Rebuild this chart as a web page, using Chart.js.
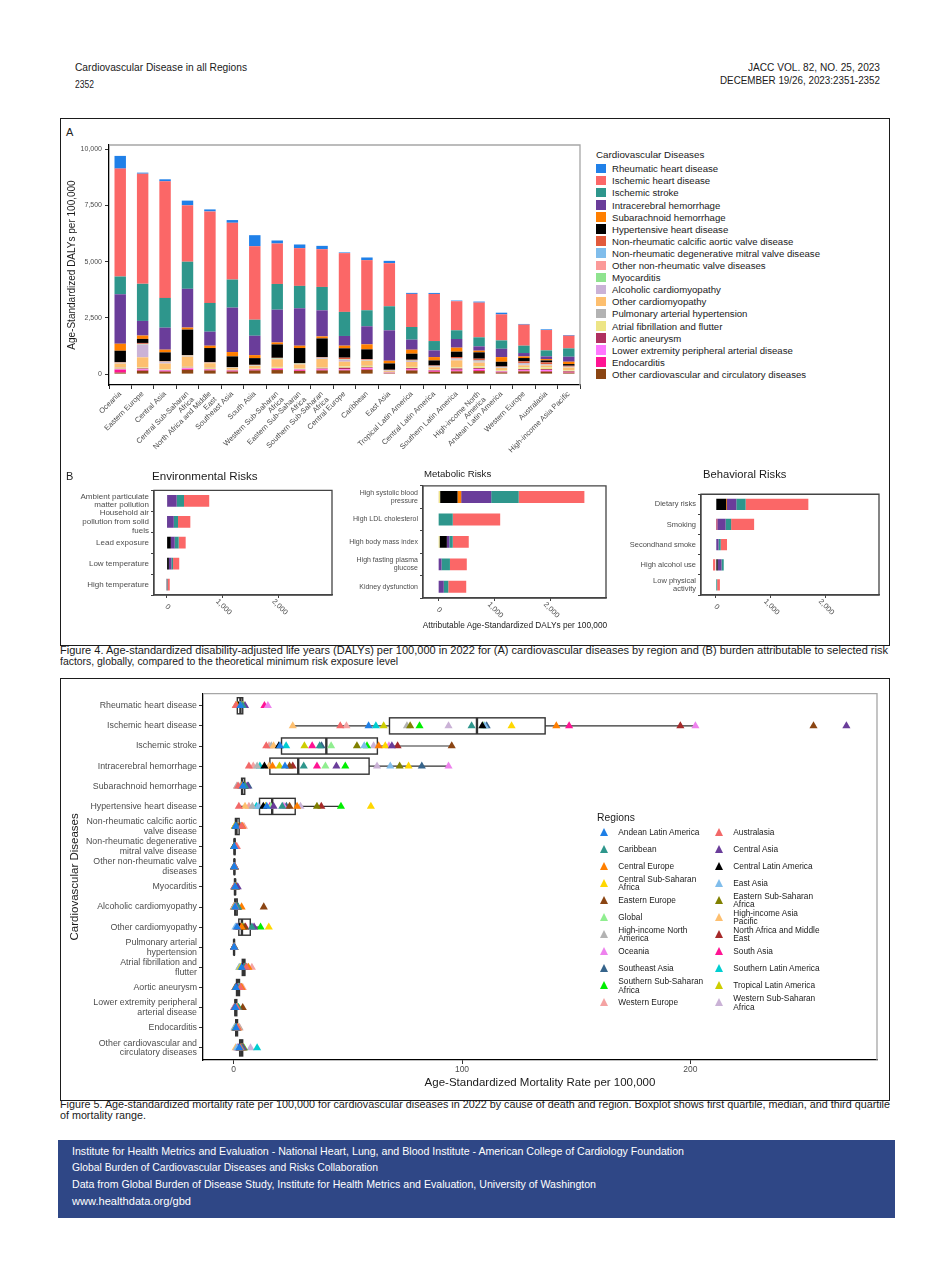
<!DOCTYPE html>
<html lang="en">
<head>
<meta charset="UTF-8">
<meta name="viewport" content="width=device-width, initial-scale=1.0">
<title>Cardiovascular Disease in all Regions</title>
<script src="https://cdn.jsdelivr.net/npm/chart.js"></script>
<style>
  body { margin: 0; background: #fff; }
  #page { position: relative; width: 950px; height: 1277px; overflow: hidden; font-family: "Liberation Sans", Arial, sans-serif; color: #222; }
  #page > * { position: absolute; }
  .line { font-family: "Liberation Sans Narrow", "Liberation Sans", Arial, sans-serif; font-size: 11.5px; line-height: 12px; white-space: nowrap; transform-origin: 0 50%; color: #1a1a1a; }
  .frame { border: 1.6px solid #1b1b1b; box-sizing: border-box; }
  .tag { font-size: 11px; line-height: 12px; }
  .ptitle { white-space: nowrap; color: #1a1a1a; }
  #footer { left: 58px; top: 1140px; width: 837px; height: 78px; background: #2f4786; }
  #footer .line { color: #fff; position: absolute; left: 14px; }
  .lgA { font-size: 9.6px; white-space: nowrap; color: #1a1a1a; }
  .lgA .sw { display: inline-block; width: 10px; height: 9.5px; margin-right: 6px; vertical-align: -1px; }
  .lg5 { position: absolute; font-size: 8.3px; line-height: 8.7px; color: #1a1a1a; white-space: nowrap; }
  .tri { position: absolute; width: 0; height: 0; border-left: 4.6px solid transparent; border-right: 4.6px solid transparent; border-bottom: 8px solid #000; }
</style>
</head>
<body>
<div id="page">
  <div class="line" data-w="172" style="left:75px;top:61px">Cardiovascular Disease in all Regions</div>
  <div class="line" data-w="19" style="left:75px;top:78px">2352</div>
  <div class="line" data-w="132" style="left:748px;top:61px">JACC VOL. 82, NO. 25, 2023</div>
  <div class="line" data-w="160" style="left:720px;top:74px">DECEMBER 19/26, 2023:2351-2352</div>

  <div class="frame" style="left:60px;top:118px;width:830px;height:528px"></div>
  <div class="tag" style="left:66px;top:126px">A</div>
  <canvas id="cvdBars" width="530" height="345" style="left:62px;top:126px"></canvas>
  <div id="legendA" style="left:596px;top:148px"></div>

  <div class="tag" style="left:66px;top:470px">B</div>
  <div class="ptitle" style="left:152px;top:469px;font-size:11.6px">Environmental Risks</div>
  <div class="ptitle" style="left:424px;top:468px;font-size:9.6px">Metabolic Risks</div>
  <div class="ptitle" style="left:703px;top:468px;font-size:11.2px">Behavioral Risks</div>
  <canvas id="envRisk" width="272" height="140" style="left:62px;top:484px"></canvas>
  <canvas id="metRisk" width="272" height="142" style="left:340px;top:480px"></canvas>
  <canvas id="behRisk" width="262" height="140" style="left:620px;top:484px"></canvas>
  <div class="ptitle" style="left:420px;top:620px;width:190px;text-align:center;font-size:8.3px">Attributable Age-Standardized DALYs per 100,000</div>

  <div class="line" data-w="828" style="left:60px;top:644px">Figure 4. Age-standardized disability-adjusted life years (DALYs) per 100,000 in 2022 for (A) cardiovascular diseases by region and (B) burden attributable to selected risk</div>
  <div class="line" data-w="338" style="left:60px;top:655px">factors, globally, compared to the theoretical minimum risk exposure level</div>

  <div class="frame" style="left:60px;top:678px;width:830px;height:423px"></div>
  <canvas id="mortality" width="826" height="416" style="left:62px;top:682px"></canvas>
  <div id="legend5" style="left:0;top:0"></div>

  <div class="line" data-w="830" style="left:60px;top:1098px">Figure 5. Age-standardized mortality rate per 100,000 for cardiovascular diseases in 2022 by cause of death and region. Boxplot shows first quartile, median, and third quartile</div>
  <div class="line" data-w="86" style="left:60px;top:1109px">of mortality range.</div>

  <div id="footer">
    <div class="line" data-w="612" style="top:5px">Institute for Health Metrics and Evaluation - National Heart, Lung, and Blood Institute - American College of Cardiology Foundation</div>
    <div class="line" data-w="306" style="top:21px">Global Burden of Cardiovascular Diseases and Risks Collaboration</div>
    <div class="line" data-w="524" style="top:38px">Data from Global Burden of Disease Study, Institute for Health Metrics and Evaluation, University of Washington</div>
    <div class="line" data-w="119" style="top:55px">www.healthdata.org/gbd</div>
  </div>
</div>

<script>
  // ---- causes (legend order = top of stack first) ----
  const cvdCauses = ['Rheumatic heart disease', 'Ischemic heart disease', 'Ischemic stroke', 'Intracerebral hemorrhage',
    'Subarachnoid hemorrhage', 'Hypertensive heart disease', 'Non-rheumatic calcific aortic valve disease',
    'Non-rheumatic degenerative mitral valve disease', 'Other non-rheumatic valve diseases', 'Myocarditis',
    'Alcoholic cardiomyopathy', 'Other cardiomyopathy', 'Pulmonary arterial hypertension', 'Atrial fibrillation and flutter',
    'Aortic aneurysm', 'Lower extremity peripheral arterial disease', 'Endocarditis', 'Other cardiovascular and circulatory diseases'];
  const causeColors = ['#2080e8', '#fb6767', '#2e968c', '#6a3d9a', '#ff7f00', '#000000', '#e25a3c', '#80bdeb', '#fb9a99',
    '#8fe38f', '#cab2d6', '#fdbf6f', '#b3b3b3', '#ede586', '#b03060', '#ff77ff', '#ff1493', '#8b4513'];

  // ---- Figure 4A: DALYs by region ----
  const regionTicksA = [['Oceania'], ['Eastern Europe'], ['Central Asia'], ['Central Sub-Saharan', 'Africa'],
    ['North Africa and Middle', 'East'], ['Southeast Asia'], ['South Asia'], ['Western Sub-Saharan', 'Africa'],
    ['Eastern Sub-Saharan', 'Africa'], ['Southern Sub-Saharan', 'Africa'], ['Central Europe'], ['Caribbean'], ['East Asia'],
    ['Tropical Latin America'], ['Central Latin America'], ['Southern Latin America'], ['High-income North', 'America'],
    ['Andean Latin America'], ['Western Europe'], ['Australasia'], ['High-income Asia Pacific']];
  const dalyTicks = [0, 2500, 5000, 7500, 10000];

  const dalyRheumatic = [565, 45, 90, 208, 90, 120, 490, 134, 163, 149, 30, 119, 104, 45, 45, 30, 45, 74, 30, 30, 30];
  const dalyIschemicHeart = [4800, 4900, 5186, 2510, 4070, 2526, 3270, 1800, 1679, 1679, 2615, 2229, 1917, 1471, 2095, 1293, 1545, 1159, 936, 906, 565];
  const dalyIschemicStroke = [790, 1650, 1322, 1204, 1278, 1248, 713, 1144, 996, 1040, 1070, 713, 1070, 565, 416, 386, 401, 371, 327, 267, 371];
  const dalyIntracerebral = [2200, 650, 980, 1724, 624, 1976, 862, 1456, 1664, 1159, 431, 802, 1352, 446, 297, 386, 193, 371, 149, 119, 223];
  const dalySubarachnoid = [310, 150, 120, 90, 104, 193, 134, 90, 104, 90, 119, 223, 119, 178, 149, 178, 74, 208, 74, 59, 104];
  const dalyHypertensive = [505, 180, 386, 1130, 624, 475, 297, 594, 669, 832, 416, 431, 282, 267, 223, 238, 282, 208, 149, 89, 74];
  const dalyCalcificAortic = [20, 40, 20, 10, 20, 10, 10, 10, 10, 15, 60, 30, 15, 30, 20, 60, 80, 20, 80, 70, 40];
  const dalyMitral = [5, 5, 5, 5, 5, 3, 3, 5, 5, 5, 10, 5, 3, 5, 5, 15, 20, 5, 25, 20, 10];
  const dalyOtherValve = [10, 10, 10, 20, 10, 5, 5, 15, 10, 15, 15, 10, 5, 10, 10, 20, 20, 10, 20, 20, 10];
  const dalyMyocarditis = [15, 20, 15, 20, 15, 10, 15, 20, 15, 20, 15, 15, 10, 15, 15, 15, 15, 15, 10, 10, 10];
  const dalyAlcoholic = [20, 565, 60, 20, 5, 10, 15, 15, 20, 30, 80, 20, 20, 40, 30, 40, 40, 20, 40, 20, 10];
  const dalyOtherCardio = [180, 445, 250, 450, 200, 80, 120, 340, 180, 380, 200, 220, 40, 220, 80, 300, 160, 90, 90, 80, 120];
  const dalyPulmonary = [20, 10, 10, 15, 10, 5, 5, 10, 10, 10, 10, 10, 5, 10, 10, 10, 15, 10, 10, 10, 10];
  const dalyAtrial = [30, 40, 30, 30, 40, 20, 20, 40, 25, 30, 60, 60, 20, 40, 35, 50, 70, 40, 70, 70, 40];
  const dalyAneurysm = [20, 40, 20, 20, 20, 20, 10, 20, 15, 20, 60, 40, 15, 40, 30, 60, 40, 20, 40, 40, 30];
  const dalyLowerExt = [20, 30, 20, 30, 20, 10, 10, 30, 30, 30, 30, 40, 10, 30, 20, 30, 50, 20, 30, 40, 10];
  const dalyEndocarditis = [130, 30, 30, 40, 30, 30, 40, 40, 30, 40, 30, 30, 10, 40, 30, 40, 40, 20, 30, 30, 20];
  const dalyOtherCvd = [65, 150, 110, 190, 160, 110, 160, 180, 140, 160, 160, 190, 40, 160, 100, 120, 135, 70, 120, 110, 62];
  const dalySeries = [dalyRheumatic, dalyIschemicHeart, dalyIschemicStroke, dalyIntracerebral, dalySubarachnoid, dalyHypertensive,
    dalyCalcificAortic, dalyMitral, dalyOtherValve, dalyMyocarditis, dalyAlcoholic, dalyOtherCardio, dalyPulmonary, dalyAtrial,
    dalyAneurysm, dalyLowerExt, dalyEndocarditis, dalyOtherCvd];

  // ---- Figure 4B: attributable DALYs by risk ----
  const riskTicks = [0, 1000, 2000];
  const envTicks = [['Ambient particulate', 'matter pollution'], ['Household air', 'pollution from solid', 'fuels'], ['Lead exposure'], ['Low temperature'], ['High temperature']];
  const envHypertensive = [10, 8, 75, 40, 3];
  const envIntracerebral = [170, 120, 70, 45, 5];
  const envIschemicStroke = [130, 75, 70, 30, 8];
  const envIschemicHeart = [450, 220, 125, 110, 40];

  const metTicks = [['High systolic blood', 'pressure'], ['High LDL cholesterol'], ['High body mass index'], ['High fasting plasma', 'glucose'], ['Kidney dysfunction']];
  const metAtrial = [25, 0, 25, 0, 0];
  const metAneurysm = [10, 0, 0, 0, 0];
  const metHypertensive = [310, 0, 130, 0, 0];
  const metSubarachnoid = [65, 0, 0, 0, 0];
  const metIntracerebral = [535, 0, 45, 60, 100];
  const metIschemicStroke = [490, 260, 60, 150, 80];
  const metIschemicHeart = [1170, 845, 285, 300, 320];

  const behTicks = [['Dietary risks'], ['Smoking'], ['Secondhand smoke'], ['High alcohol use'], ['Low physical', 'activity']];
  const behAneurysm = [0, 30, 0, 0, 0];
  const behAlcoholic = [0, 0, 0, 10, 0];
  const behHypertensive = [190, 0, 0, 25, 0];
  const behSubarachnoid = [15, 0, 0, 0, 0];
  const behIntracerebral = [170, 150, 50, 70, 0];
  const behIschemicStroke = [170, 100, 40, 40, 25];
  const behIschemicHeart = [1145, 420, 115, -50, 50];

  // ---- Figure 5: mortality rate by cause and region ----
  const regions5 = ['Andean Latin America', 'Australasia', 'Caribbean', 'Central Asia', 'Central Europe', 'Central Latin America',
    'Central Sub-Saharan Africa', 'East Asia', 'Eastern Europe', 'Eastern Sub-Saharan Africa', 'Global', 'High-income Asia Pacific',
    'High-income North America', 'North Africa and Middle East', 'Oceania', 'South Asia', 'Southeast Asia', 'Southern Latin America',
    'Southern Sub-Saharan Africa', 'Tropical Latin America', 'Western Europe', 'Western Sub-Saharan Africa'];
  const legendLabels5 = [['Andean Latin America'], ['Australasia'], ['Caribbean'], ['Central Asia'], ['Central Europe'],
    ['Central Latin America'], ['Central Sub-Saharan', 'Africa'], ['East Asia'], ['Eastern Europe'], ['Eastern Sub-Saharan', 'Africa'],
    ['Global'], ['High-income Asia', 'Pacific'], ['High-income North', 'America'], ['North Africa and Middle', 'East'], ['Oceania'],
    ['South Asia'], ['Southeast Asia'], ['Southern Latin America'], ['Southern Sub-Saharan', 'Africa'], ['Tropical Latin America'],
    ['Western Europe'], ['Western Sub-Saharan', 'Africa']];
  const regionColors = ['#1e7fe6', '#f26868', '#2e968c', '#6a3d9a', '#ff7f00', '#000000', '#ffd700', '#80bdeb', '#8b4513', '#808000',
    '#90ee90', '#fdbf6f', '#b3b3b3', '#a52a2a', '#ee82ee', '#ff1493', '#36648b', '#00ced1', '#00ee00', '#cdcd00', '#f4a3a3', '#cab2d6'];
  const causeTicks5 = [['Rheumatic heart disease'], ['Ischemic heart disease'], ['Ischemic stroke'], ['Intracerebral hemorrhage'],
    ['Subarachnoid hemorrhage'], ['Hypertensive heart disease'], ['Non-rheumatic calcific aortic', 'valve disease'],
    ['Non-rheumatic degenerative', 'mitral valve disease'], ['Other non-rheumatic valve', 'diseases'], ['Myocarditis'],
    ['Alcoholic cardiomyopathy'], ['Other cardiomyopathy'], ['Pulmonary arterial', 'hypertension'], ['Atrial fibrillation and', 'flutter'],
    ['Aortic aneurysm'], ['Lower extremity peripheral', 'arterial disease'], ['Endocarditis'], ['Other cardiovascular and', 'circulatory diseases']];
  const rateTicks = [0, 100, 200];

  const rateRheumatic = [3, 1, 4, 5, 1.5, 2, 4, 3, 2, 3, 4, 1, 1, 3, 15, 13.5, 3, 1.5, 3, 4.5, 1, 2.5];
  const rateIschemicHeart = [59.1, 46.7, 104.2, 268.3, 141.3, 108.9, 121.7, 110, 253.9, 77.3, 109.5, 25.9, 75.9, 195.6, 202.2, 146.9, 110.8, 62.3, 81.4, 65.7, 49.4, 94.1];
  const rateIschemicStroke = [20.3, 14.3, 37.7, 69.3, 63.5, 19.8, 66.4, 57.2, 95.5, 54.0, 42.7, 17.5, 16.5, 71.8, 68, 34.4, 38.5, 23.0, 58.4, 31.0, 15.5, 61.3];
  const rateIntracerebral = [22.5, 6.7, 30.7, 45.0, 17.0, 13.5, 76.6, 68.6, 24.5, 72.7, 40.2, 15.5, 10.3, 25.9, 94.1, 36.5, 82.4, 11.5, 48.9, 20.1, 8.6, 62.8];
  const rateSubarachnoid = [4, 2, 5, 6, 3.5, 4.5, 5, 3, 3.5, 5, 3.5, 3, 1.5, 3.5, 5.5, 4, 6.5, 3.5, 4.5, 3.5, 1.5, 4];
  const rateHypertensive = [14.5, 2.3, 21.3, 17.5, 27.8, 13.0, 60.1, 10.8, 24.5, 36.5, 16.3, 5.0, 8.2, 38.4, 22.0, 15.9, 23.1, 10.0, 47.0, 14.0, 6.7, 29.3];
  const rateCalcificAortic = [0.8, 3.5, 1.2, 1.5, 3.8, 1.0, 0.5, 0.8, 2.5, 0.6, 1.5, 2.2, 3.2, 1.3, 0.9, 0.6, 0.7, 3.0, 1.0, 1.6, 4.5, 0.6];
  const rateMitral = [0.3, 1.2, 0.4, 0.6, 0.8, 0.3, 0.2, 0.3, 0.6, 0.2, 0.5, 0.6, 1.0, 0.4, 0.3, 0.2, 0.3, 0.9, 0.3, 0.4, 1.5, 0.2];
  const rateOtherValve = [0.3, 0.5, 0.4, 0.3, 0.4, 0.4, 0.3, 0.1, 0.3, 0.3, 0.3, 0.2, 0.5, 0.4, 0.5, 0.2, 0.2, 0.5, 0.4, 0.4, 0.6, 0.3];
  const rateMyocarditis = [0.6, 0.3, 0.6, 1.8, 0.8, 0.5, 0.8, 0.4, 1.2, 0.8, 0.7, 0.3, 0.4, 0.9, 1.0, 0.6, 0.8, 0.4, 1.0, 0.6, 0.4, 0.8];
  const rateAlcoholic = [0.6, 0.8, 2.0, 1.5, 3.5, 1.8, 0.5, 0.4, 13.2, 0.6, 0.9, 0.2, 1.6, 0.1, 0.3, 0.6, 0.7, 1.2, 1.5, 1.3, 1.8, 0.5];
  const rateOtherCardio = [1.5, 1.6, 8.0, 9.0, 3.5, 2.5, 15.4, 0.8, 5.0, 4.1, 3.8, 1.2, 4.5, 3.0, 8.3, 5.2, 2.2, 3.4, 11.8, 2.8, 2.0, 8.6];
  const ratePulmonary = [0.2, 0.2, 0.3, 0.3, 0.2, 0.2, 0.3, 0.2, 0.2, 0.3, 0.2, 0.1, 0.3, 0.3, 0.4, 0.2, 0.2, 0.2, 0.3, 0.3, 0.2, 0.3];
  const rateAtrial = [3.5, 5.5, 4.8, 4.5, 6.5, 4.0, 3.0, 2.5, 5.5, 3.5, 4.6, 2.5, 6.0, 4.5, 3.8, 4.2, 4.0, 5.0, 4.8, 4.7, 8.0, 3.8];
  const rateAneurysm = [1.0, 3.0, 2.5, 1.5, 3.5, 1.2, 1.0, 2.0, 2.2, 0.8, 2.1, 2.8, 2.6, 1.8, 1.5, 0.8, 1.5, 3.2, 1.6, 2.0, 4.0, 0.9];
  const rateLowerExt = [0.8, 1.5, 2.0, 0.5, 1.5, 0.9, 0.5, 0.3, 4.0, 0.6, 1.0, 0.4, 1.4, 0.7, 0.8, 0.2, 0.6, 1.2, 2.2, 1.4, 1.2, 0.6];
  const rateEndocarditis = [1.0, 1.8, 1.2, 1.5, 1.8, 1.2, 0.8, 0.4, 1.5, 0.9, 1.3, 2.0, 2.5, 1.0, 1.2, 0.6, 0.7, 1.5, 1.4, 1.8, 2.6, 0.9];
  const rateOtherCvd = [2.5, 3.0, 3.5, 4.0, 3.6, 2.8, 3.8, 1.5, 4.2, 3.2, 3.1, 0.9, 4.3, 2.6, 3.3, 1.8, 2.2, 10.3, 4.5, 3.4, 3.9, 7.4];
  const rateSeries = [rateRheumatic, rateIschemicHeart, rateIschemicStroke, rateIntracerebral, rateSubarachnoid, rateHypertensive,
    rateCalcificAortic, rateMitral, rateOtherValve, rateMyocarditis, rateAlcoholic, rateOtherCardio, ratePulmonary, rateAtrial,
    rateAneurysm, rateLowerExt, rateEndocarditis, rateOtherCvd];

  // ---- shared styles ----
  Chart.defaults.font.family = '"Liberation Sans", Arial, sans-serif';
  Chart.defaults.color = '#4d4d4d';
  Chart.defaults.animation = false;
  const fmt = v => v.toLocaleString('en-US');
  const axisGrid = { drawOnChartArea: false, tickLength: 4, color: '#333' };

  // gray top/right edges (or a full box) around the plot area
  function panelEdge(color, full) {
    return {
      id: 'panelEdge',
      afterDatasetsDraw(chart) {
        const { ctx, chartArea: a } = chart;
        ctx.save();
        ctx.strokeStyle = color;
        ctx.lineWidth = 1.3;
        ctx.beginPath();
        if (full) {
          ctx.rect(a.left, a.top, a.width, a.height);
        } else {
          ctx.moveTo(a.left, a.top);
          ctx.lineTo(a.right, a.top);
          ctx.lineTo(a.right, a.bottom);
        }
        ctx.stroke();
        ctx.restore();
      }
    };
  }

  // ---- 4A stacked bars ----
  new Chart(document.getElementById('cvdBars'), {
    type: 'bar',
    data: {
      labels: regionTicksA,
      datasets: cvdCauses.map((name, i) => ({
        label: name,
        data: dalySeries[i],
        backgroundColor: causeColors[i],
        categoryPercentage: 1,
        barPercentage: 0.51
      })).reverse()
    },
    options: {
      responsive: false,
      layout: { padding: { top: 19, right: 12, left: 0, bottom: 0 } },
      plugins: { legend: { display: false }, tooltip: { enabled: false } },
      scales: {
        x: {
          stacked: true,
          grid: axisGrid,
          border: { color: '#000', width: 1.3 },
          ticks: { autoSkip: false, minRotation: 45, maxRotation: 45, padding: 1, font: { size: 7.5, lineHeight: 1.05 } },
          afterFit: s => { s.height = 86; }
        },
        y: {
          stacked: true,
          min: -485,
          max: 10190,
          afterBuildTicks: s => { s.ticks = dalyTicks.map(v => ({ value: v })); },
          ticks: { font: { size: 7 }, padding: 3, callback: v => fmt(v) },
          grid: axisGrid,
          border: { color: '#000', width: 1.3 },
          title: { display: true, text: 'Age-Standardized DALYs per 100,000', color: '#1a1a1a', font: { size: 10 } },
          afterFit: s => { s.width = 47; }
        }
      }
    },
    plugins: [panelEdge('#a6a6a6', false)]
  });

  // legend for 4A
  const legendA = document.getElementById('legendA');
  legendA.innerHTML = '<div class="lgA" style="font-size:9.8px;line-height:13px">Cardiovascular Diseases</div>' +
    '<div style="position:absolute;top:15.3px;left:0">' +
    cvdCauses.map((c, i) => `<div class="lgA" style="line-height:12.1px"><span class="sw" style="background:${causeColors[i]}"></span>${c}</div>`).join('') +
    '</div>';

  // ---- 4B horizontal risk bars ----
  const slantTicks = {
    id: 'slantTicks',
    afterDraw(chart) {
      const s = chart.scales.x, ctx = chart.ctx;
      ctx.save();
      ctx.fillStyle = '#4d4d4d';
      ctx.font = '7.5px "Liberation Sans", Arial, sans-serif';
      ctx.textAlign = 'center';
      ctx.textBaseline = 'middle';
      s.ticks.forEach(t => {
        ctx.save();
        ctx.translate(s.getPixelForValue(t.value) + 1, s.top + 12);
        ctx.rotate(Math.PI / 4);
        ctx.fillText(fmt(t.value), 0, 0);
        ctx.restore();
      });
      ctx.restore();
    }
  };

  function riskChart(id, ticks, series, o) {
    new Chart(document.getElementById(id), {
      type: 'bar',
      data: {
        labels: ticks,
        datasets: series.sort((a, b) => b[0] - a[0]).map(([ci, vals]) => ({
          label: cvdCauses[ci],
          data: vals,
          backgroundColor: causeColors[ci],
          categoryPercentage: 1,
          barPercentage: o.bar
        }))
      },
      options: {
        responsive: false,
        indexAxis: 'y',
        layout: { padding: { top: o.top, right: o.right, left: 0, bottom: 0 } },
        plugins: { legend: { display: false }, tooltip: { enabled: false } },
        scales: {
          x: {
            stacked: true,
            min: o.min,
            max: o.max,
            afterBuildTicks: s => { s.ticks = riskTicks.map(v => ({ value: v })); },
            ticks: { display: false },
            grid: { drawOnChartArea: false, tickLength: 3, color: '#444' },
            border: { color: '#444', width: 1.2 },
            afterFit: s => { s.height = o.xh; }
          },
          y: {
            stacked: true,
            ticks: { autoSkip: false, padding: 2, font: { size: o.font, lineHeight: 1.1 } },
            grid: { drawOnChartArea: false, tickLength: 3, color: '#444' },
            border: { color: '#444', width: 1.2 },
            afterFit: s => { s.width = o.yw; }
          }
        }
      },
      plugins: [panelEdge('#444', true), slantTicks]
    });
  }

  riskChart('envRisk', envTicks, [[5, envHypertensive], [3, envIntracerebral], [2, envIschemicStroke], [1, envIschemicHeart]],
    { min: -225, max: 2950, top: 3, right: 2, yw: 92, xh: 29, font: 8, bar: 0.56 });
  riskChart('metRisk', metTicks, [[13, metAtrial], [14, metAneurysm], [5, metHypertensive], [4, metSubarachnoid],
    [3, metIntracerebral], [2, metIschemicStroke], [1, metIschemicHeart]],
    { min: -270, max: 2990, top: 4, right: 6, yw: 83, xh: 24, font: 7, bar: 0.53 });
  riskChart('behRisk', behTicks, [[14, behAneurysm], [10, behAlcoholic], [5, behHypertensive], [4, behSubarachnoid],
    [3, behIntracerebral], [2, behIschemicStroke], [1, behIschemicHeart]],
    { min: -270, max: 2980, top: 3, right: 3, yw: 81, xh: 29, font: 7.5, bar: 0.56 });

  // ---- 5 boxplot + region triangles ----
  function quantile(sorted, p) {
    const h = (sorted.length - 1) * p, lo = Math.floor(h);
    const next = lo + 1 < sorted.length ? sorted[lo + 1] : sorted[lo];
    return sorted[lo] + (h - lo) * (next - sorted[lo]);
  }
  function boxStats(values) {
    const s = [...values].sort((a, b) => a - b);
    const q1 = quantile(s, 0.25), med = quantile(s, 0.5), q3 = quantile(s, 0.75), iqr = q3 - q1;
    const lo = s.find(v => v >= q1 - 1.5 * iqr);
    const hi = [...s].reverse().find(v => v <= q3 + 1.5 * iqr);
    return { q1, med, q3, lo, hi };
  }

  const boxPlot = {
    id: 'boxPlot',
    beforeDatasetsDraw(chart) {
      const { ctx, scales: { x, y } } = chart;
      const half = Math.abs(y.getPixelForValue(0.4) - y.getPixelForValue(0));
      const px = v => x.getPixelForValue(v);
      ctx.save();
      ctx.strokeStyle = '#333';
      rateSeries.forEach((vals, i) => {
        const b = boxStats(vals), cy = y.getPixelForValue(i);
        ctx.lineWidth = 1.1;
        ctx.beginPath();
        ctx.moveTo(px(b.lo), cy); ctx.lineTo(px(b.q1), cy);
        ctx.moveTo(px(b.q3), cy); ctx.lineTo(px(b.hi), cy);
        ctx.stroke();
        ctx.lineWidth = 1.4;
        ctx.strokeRect(px(b.q1), cy - half, px(b.q3) - px(b.q1), 2 * half);
        ctx.lineWidth = 2.4;
        ctx.beginPath();
        ctx.moveTo(px(b.med), cy - half); ctx.lineTo(px(b.med), cy + half);
        ctx.stroke();
      });
      ctx.restore();
    }
  };

  new Chart(document.getElementById('mortality'), {
    type: 'scatter',
    data: {
      datasets: regions5.map((r, j) => ({
        label: r,
        data: rateSeries.map((vals, i) => ({ x: vals[j], y: i })),
        pointStyle: 'triangle',
        pointRadius: 4.7,
        backgroundColor: regionColors[j],
        borderWidth: 0
      }))
    },
    options: {
      responsive: false,
      layout: { padding: { top: 8, right: 11, left: 0, bottom: 0 } },
      plugins: { legend: { display: false }, tooltip: { enabled: false } },
      scales: {
        x: {
          type: 'linear',
          min: -13.4,
          max: 281.7,
          afterBuildTicks: s => { s.ticks = rateTicks.map(v => ({ value: v })); },
          ticks: { font: { size: 8.5 }, padding: 1 },
          grid: axisGrid,
          border: { color: '#000', width: 1.3 },
          title: { display: true, text: 'Age-Standardized Mortality Rate per 100,000', color: '#1a1a1a', font: { size: 11.5 }, padding: { top: 0, bottom: 8 } },
          afterFit: s => { s.height = 38; }
        },
        y: {
          type: 'linear',
          reverse: true,
          min: -0.6,
          max: 17.6,
          afterBuildTicks: s => { s.ticks = causeTicks5.map((_, i) => ({ value: i })); },
          ticks: { autoSkip: false, padding: 2, font: { size: 8.8, lineHeight: 1.1 }, callback: v => causeTicks5[v] },
          grid: axisGrid,
          border: { color: '#000', width: 1.3 },
          title: { display: true, text: 'Cardiovascular Diseases', color: '#1a1a1a', font: { size: 11.5 }, padding: { top: 6, bottom: 4 } },
          afterFit: s => { s.width = 141; }
        }
      }
    },
    plugins: [boxPlot, panelEdge('#a6a6a6', false)]
  });

  // legend for 5 (two columns, filled by row)
  const legend5 = document.getElementById('legend5');
  let html5 = '<div class="lg5" style="left:597px;top:811px;font-size:10.3px;line-height:13px">Regions</div>';
  regions5.forEach((r, j) => {
    const row = Math.floor(j / 2), col = j % 2;
    const cy = 832.3 + row * 17.03;
    const mx = col ? 719.3 : 605, tx = col ? 733.3 : 618.3;
    const lines = legendLabels5[j];
    html5 += `<div class="tri" style="left:${mx - 4.6}px;top:${cy - 4.5}px;border-bottom-color:${regionColors[j]}"></div>`;
    html5 += `<div class="lg5" style="left:${tx}px;top:${cy - lines.length * 4.35}px">${lines.join('<br>')}</div>`;
  });
  legend5.innerHTML = html5;

  // stretch the condensed running text to its measured width
  document.querySelectorAll('[data-w]').forEach(el => {
    el.style.display = 'inline-block';
    const w = el.getBoundingClientRect().width;
    el.style.transform = `scaleX(${(+el.dataset.w / w).toFixed(4)})`;
  });
</script>
</body>
</html>
